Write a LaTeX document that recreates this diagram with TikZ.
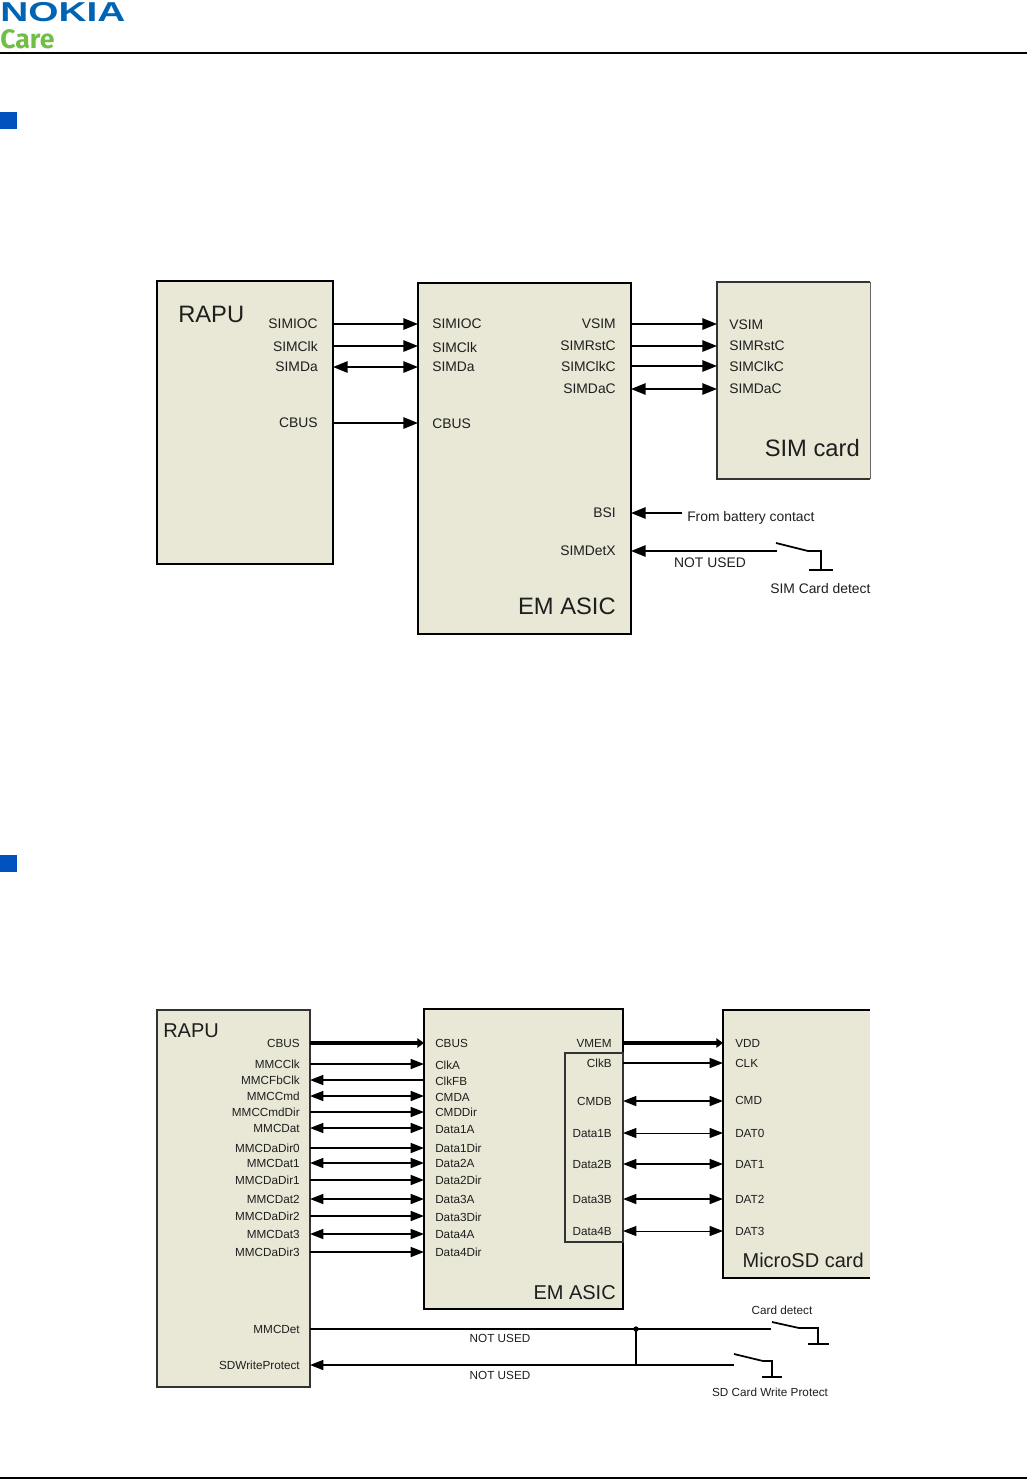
\documentclass[tikz,border=0pt]{standalone}
\usepackage{fontspec}
\usepackage{xcolor}
\usetikzlibrary{arrows.meta,fit}
\setmainfont{Liberation Sans}
\newfontfamily\carefont{Fira Sans}
\definecolor{boxtan}{RGB}{233,231,214}
\definecolor{nokiablue}{RGB}{0,100,180}
\definecolor{squareblue}{RGB}{0,80,190}
\definecolor{caregreen}{RGB}{112,190,70}
\definecolor{inkgrey}{RGB}{30,30,30}
\tikzset{
    boxheavy/.style={draw=black, line width=1.9pt, fill=boxtan, inner sep=0pt, outer sep=0pt},
    boxlight/.style={draw=black!80, line width=1.3pt, fill=boxtan, inner sep=0pt, outer sep=0pt},
    boxfill/.style={fill=boxtan, inner sep=0pt, outer sep=0pt},
    sigtext/.style={font=\fontsize{10.4}{12}\selectfont, text=inkgrey, inner sep=0pt, text depth=0pt},
    smalltext/.style={font=\fontsize{8.8}{10}\selectfont, text=inkgrey, inner sep=0pt, text depth=0pt},
    bigtext/.style={font=\fontsize{17.8}{20}\selectfont, text=inkgrey, inner sep=0pt, text depth=0pt},
    midtext/.style={font=\fontsize{15}{18}\selectfont, text=inkgrey, inner sep=0pt, text depth=0pt},
    wireA/.style={line width=1.4pt},
    wireB/.style={line width=1.2pt},
    sigto/.style={wireA, -{Triangle[length=11pt,width=8.5pt]}},
    sigfrom/.style={wireA, {Triangle[length=11pt,width=8.5pt]}-},
    sigboth/.style={wireA, {Triangle[length=11pt,width=8.5pt]}-{Triangle[length=11pt,width=8.5pt]}},
    busto/.style={wireB, -{Triangle[length=10pt,width=7.5pt]}},
    busfrom/.style={wireB, {Triangle[length=10pt,width=7.5pt]}-},
    busboth/.style={wireB, {Triangle[length=10pt,width=7.5pt]}-{Triangle[length=10pt,width=7.5pt]}},
    thinboth/.style={line width=0.7pt, {Triangle[length=10pt,width=7.5pt]}-{Triangle[length=10pt,width=7.5pt]}},
    powerto/.style={line width=2.3pt, -{Triangle[length=5pt,width=7pt]}},
    switchline/.style={line width=1.3pt, line join=miter},
}

\begin{document}
\begin{tikzpicture}[x=0.75pt, y=-0.75pt]
    \useasboundingbox (0,0) rectangle (1027,1479);
    % page furniture
    \node[font=\bfseries\fontsize{20.5}{22}\selectfont, text=nokiablue, xscale=1.42, anchor=base west, inner sep=0pt] (nokia) at (0,21) {NOKIA};
    \node[font=\carefont\bfseries\fontsize{20}{24}\selectfont, text=caregreen, anchor=base west, inner sep=0pt] (care) at (0,48) {Care};
    \draw[line width=1.4pt] (0,53) -- (1027,53);
    \draw[line width=1.4pt] (0,1478) -- (1027,1478);
    \fill[squareblue] (0,112) rectangle (17,129);
    \fill[squareblue] (0,855) rectangle (17,872);

    % SIM part
    \node[boxheavy, fit={(157,281)(333,564)}] (rapuA) {};
    \node[boxheavy, fit={(418,283)(631,634)}] (asicA) {};
    \node[boxfill, fit={(717,282)(870,479)}] (simcard) {};
    \draw[line width=1.3pt, black!80] (simcard.north east) -- (simcard.north west) -- (simcard.south west) -- (simcard.south east);
    \draw[line width=0.5pt, black!60] (simcard.north east) -- (simcard.south east);

    \node[bigtext, anchor=west] (rapuAname) at (178,314) {RAPU};
    \node[bigtext, anchor=east] (asicAname) at (616,606) {EM ASIC};
    \node[bigtext, anchor=east] (simname) at (860,448) {SIM card};

    \node[sigtext, anchor=east] (rSIMIOC) at (318,324) {SIMIOC};
    \node[sigtext, anchor=east] (rSIMClk) at (318,346) {SIMClk};
    \node[sigtext, anchor=east] (rSIMDa) at (318,367) {SIMDa};
    \node[sigtext, anchor=east] (rCBUSA) at (318,423) {CBUS};

    \node[sigtext, anchor=west] (aSIMIOC) at (432,324) {SIMIOC};
    \node[sigtext, anchor=west] (aSIMClk) at (432,347) {SIMClk};
    \node[sigtext, anchor=west] (aSIMDa) at (432,367) {SIMDa};
    \node[sigtext, anchor=west] (aCBUSA) at (432,424) {CBUS};

    \node[sigtext, anchor=east] (aVSIM) at (616,324) {VSIM};
    \node[sigtext, anchor=east] (aSIMRstC) at (616,346) {SIMRstC};
    \node[sigtext, anchor=east] (aSIMClkC) at (616,366) {SIMClkC};
    \node[sigtext, anchor=east] (aSIMDaC) at (616,389) {SIMDaC};
    \node[sigtext, anchor=east] (aBSI) at (616,513) {BSI};
    \node[sigtext, anchor=east] (aSIMDetX) at (616,551) {SIMDetX};

    \node[sigtext, anchor=west] (cVSIM) at (729,325) {VSIM};
    \node[sigtext, anchor=west] (cSIMRstC) at (729,346) {SIMRstC};
    \node[sigtext, anchor=west] (cSIMClkC) at (729,366) {SIMClkC};
    \node[sigtext, anchor=west] (cSIMDaC) at (729,389) {SIMDaC};

    \draw[sigto] (rapuA.east |- rSIMIOC) -- (asicA.west |- rSIMIOC);
    \draw[sigto] (rapuA.east |- rSIMClk) -- (asicA.west |- rSIMClk);
    \draw[sigboth] (rapuA.east |- rSIMDa) -- (asicA.west |- rSIMDa);
    \draw[sigto] (rapuA.east |- rCBUSA) -- (asicA.west |- rCBUSA);
    \draw[sigto] (asicA.east |- aVSIM) -- (simcard.west |- aVSIM);
    \draw[sigto] (asicA.east |- aSIMRstC) -- (simcard.west |- aSIMRstC);
    \draw[sigto] (asicA.east |- aSIMClkC) -- (simcard.west |- aSIMClkC);
    \draw[sigboth] (asicA.east |- aSIMDaC) -- (simcard.west |- aSIMDaC);

    \node[sigtext, anchor=west] (battery) at (687,516) {From battery contact};
    \coordinate (batteryend) at (682,513);
    \draw[sigfrom] (asicA.east |- batteryend) -- (batteryend);
    \node[sigtext] (notusedA) at (710,563) {NOT USED};
    \coordinate (detA) at (777,551);
    \draw[sigfrom] (asicA.east |- detA) -- (detA);
    \draw[switchline] (776,543) -- (808,551) -- (821,551) -- (821,570);
    \draw[switchline] (809,570) -- (833,570);
    \node[sigtext, anchor=west] (simdetect) at (770,588) {SIM Card detect};

    % MMC part
    \node[boxlight, fit={(157,1010)(310,1387)}] (rapuB) {};
    \node[boxheavy, line width=1.6pt, fit={(424,1009)(623,1309)}] (asicB) {};
    \node[boxlight, fit={(565,1053)(623,1242)}] (bufB) {};
    \node[boxfill, fit={(723,1010)(870,1278)}] (sdcard) {};
    \draw[line width=1.5pt] (sdcard.north east) -- (sdcard.north west) -- (sdcard.south west) -- (sdcard.south east);

    \node[midtext, anchor=west] (rapuBname) at (163,1031) {RAPU};
    \node[midtext, anchor=east] (asicBname) at (616,1292) {EM ASIC};
    \node[midtext, anchor=east] (sdname) at (864,1260) {MicroSD card};

    \node[smalltext, anchor=east] (rCBUS) at (300,1043) {CBUS};
    \node[smalltext, anchor=east] (rMMCClk) at (300,1064) {MMCClk};
    \node[smalltext, anchor=east] (rMMCFbClk) at (300,1080) {MMCFbClk};
    \node[smalltext, anchor=east] (rMMCCmd) at (300,1096) {MMCCmd};
    \node[smalltext, anchor=east] (rMMCCmdDir) at (300,1112) {MMCCmdDir};
    \node[smalltext, anchor=east] (rMMCDat) at (300,1128) {MMCDat};
    \node[smalltext, anchor=east] (rMMCDaDirO) at (300,1148) {MMCDaDir0};
    \node[smalltext, anchor=east] (rMMCDatI) at (300,1163) {MMCDat1};
    \node[smalltext, anchor=east] (rMMCDaDirI) at (300,1180) {MMCDaDir1};
    \node[smalltext, anchor=east] (rMMCDatII) at (300,1199) {MMCDat2};
    \node[smalltext, anchor=east] (rMMCDaDirII) at (300,1216) {MMCDaDir2};
    \node[smalltext, anchor=east] (rMMCDatIII) at (300,1234) {MMCDat3};
    \node[smalltext, anchor=east] (rMMCDaDirIII) at (300,1252) {MMCDaDir3};
    \node[smalltext, anchor=east] (rMMCDet) at (300,1329) {MMCDet};
    \node[smalltext, anchor=east] (rSDWP) at (300,1365) {SDWriteProtect};

    \node[smalltext, anchor=west] (aCBUS) at (435,1043) {CBUS};
    \node[smalltext, anchor=west] (aClkA) at (435,1065) {ClkA};
    \node[smalltext, anchor=west] (aClkFB) at (435,1081) {ClkFB};
    \node[smalltext, anchor=west] (aCMDA) at (435,1097) {CMDA};
    \node[smalltext, anchor=west] (aCMDDir) at (435,1112) {CMDDir};
    \node[smalltext, anchor=west] (aDataIA) at (435,1129) {Data1A};
    \node[smalltext, anchor=west] (aDataIDir) at (435,1148) {Data1Dir};
    \node[smalltext, anchor=west] (aDataIIA) at (435,1163) {Data2A};
    \node[smalltext, anchor=west] (aDataIIDir) at (435,1180) {Data2Dir};
    \node[smalltext, anchor=west] (aDataIIIA) at (435,1199) {Data3A};
    \node[smalltext, anchor=west] (aDataIIIDir) at (435,1217) {Data3Dir};
    \node[smalltext, anchor=west] (aDataIVA) at (435,1234) {Data4A};
    \node[smalltext, anchor=west] (aDataIVDir) at (435,1252) {Data4Dir};

    \node[smalltext, anchor=east] (aVMEM) at (612,1043) {VMEM};
    \node[smalltext, anchor=east] (aClkB) at (612,1063) {ClkB};
    \node[smalltext, anchor=east] (aCMDB) at (612,1101) {CMDB};
    \node[smalltext, anchor=east] (aDataIB) at (612,1133) {Data1B};
    \node[smalltext, anchor=east] (aDataIIB) at (612,1164) {Data2B};
    \node[smalltext, anchor=east] (aDataIIIB) at (612,1199) {Data3B};
    \node[smalltext, anchor=east] (aDataIVB) at (612,1231) {Data4B};

    \node[smalltext, anchor=west] (cVDD) at (735,1043) {VDD};
    \node[smalltext, anchor=west] (cCLK) at (735,1063) {CLK};
    \node[smalltext, anchor=west] (cCMD) at (735,1100) {CMD};
    \node[smalltext, anchor=west] (cDATO) at (735,1133) {DAT0};
    \node[smalltext, anchor=west] (cDATI) at (735,1164) {DAT1};
    \node[smalltext, anchor=west] (cDATII) at (735,1199) {DAT2};
    \node[smalltext, anchor=west] (cDATIII) at (735,1231) {DAT3};

    \draw[powerto] (rapuB.east |- rCBUS) -- (asicB.west |- rCBUS);
    \draw[busto] (rapuB.east |- rMMCClk) -- (asicB.west |- rMMCClk);
    \draw[busfrom] (rapuB.east |- rMMCFbClk) -- (asicB.west |- rMMCFbClk);
    \draw[busboth] (rapuB.east |- rMMCCmd) -- (asicB.west |- rMMCCmd);
    \draw[busto] (rapuB.east |- rMMCCmdDir) -- (asicB.west |- rMMCCmdDir);
    \draw[busboth] (rapuB.east |- rMMCDat) -- (asicB.west |- rMMCDat);
    \draw[busto] (rapuB.east |- rMMCDaDirO) -- (asicB.west |- rMMCDaDirO);
    \draw[busboth] (rapuB.east |- rMMCDatI) -- (asicB.west |- rMMCDatI);
    \draw[busto] (rapuB.east |- rMMCDaDirI) -- (asicB.west |- rMMCDaDirI);
    \draw[busboth] (rapuB.east |- rMMCDatII) -- (asicB.west |- rMMCDatII);
    \draw[busto] (rapuB.east |- rMMCDaDirII) -- (asicB.west |- rMMCDaDirII);
    \draw[busboth] (rapuB.east |- rMMCDatIII) -- (asicB.west |- rMMCDatIII);
    \draw[busto] (rapuB.east |- rMMCDaDirIII) -- (asicB.west |- rMMCDaDirIII);

    \draw[powerto] (asicB.east |- aVMEM) -- (sdcard.west |- aVMEM);
    \draw[busto] (asicB.east |- aClkB) -- (sdcard.west |- aClkB);
    \draw[busboth] (asicB.east |- aCMDB) -- (sdcard.west |- aCMDB);
    \draw[thinboth] (asicB.east |- aDataIB) -- (sdcard.west |- aDataIB);
    \draw[busboth] (asicB.east |- aDataIIB) -- (sdcard.west |- aDataIIB);
    \draw[busboth] (asicB.east |- aDataIIIB) -- (sdcard.west |- aDataIIIB);
    \draw[thinboth] (asicB.east |- aDataIVB) -- (sdcard.west |- aDataIVB);

    \coordinate (detB) at (771,1329);
    \coordinate (wpB) at (734,1365);
    \draw[wireB] (rapuB.east |- detB) -- (detB);
    \draw[busfrom] (rapuB.east |- wpB) -- (wpB);
    \node[smalltext] (notusedB) at (500,1338) {NOT USED};
    \node[smalltext] (notusedC) at (500,1375) {NOT USED};
    \node[circle, fill=black, inner sep=0pt, minimum size=4pt] (joint) at (636,1329) {};
    \draw[wireB] (joint.center) -- (joint.center |- wpB);
    \draw[switchline] (772,1322) -- (799,1328) -- (818,1328) -- (818,1344);
    \draw[switchline] (808,1344) -- (829,1344);
    \draw[switchline] (734,1354) -- (763,1361) -- (772,1361) -- (772,1377);
    \draw[switchline] (762,1377) -- (782,1377);
    \node[smalltext] (carddetect) at (782,1310) {Card detect};
    \node[smalltext] (sdprotect) at (770,1392) {SD Card Write Protect};
\end{tikzpicture}
\end{document}
